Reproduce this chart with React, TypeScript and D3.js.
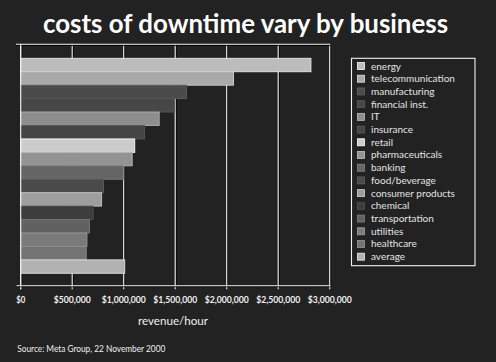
import React, { useRef, useEffect } from "react"
import * as d3 from "d3"

// industries, top to bottom
const categories = [
  "energy", "telecommunication", "manufacturing", "financial inst.", "IT", "insurance",
  "retail", "pharmaceuticals", "banking", "food/beverage", "consumer products",
  "chemical", "transportation", "utilities", "healthcare", "average",
]

// revenue lost per hour of downtime (USD)
const revenuePerHour = [
  2817846, 2066245, 1610654, 1495134, 1344461, 1202444,
  1107274, 1082252, 996802, 804192, 785719,
  704101, 668586, 643250, 636030, 1010536,
]

const barGreys = [
  "#bcbcbc", "#a9a9a9", "#4b4b4b", "#474747", "#8e8e8e", "#454545",
  "#cbcbcb", "#939393", "#656565", "#4a4a4a", "#9e9e9e",
  "#3d3d3d", "#616161", "#7a7a7a", "#737373", "#b2b2b2",
]

const tickValues = [0, 500000, 1000000, 1500000, 2000000, 2500000, 3000000]
const tickLabels = ["$0", "$500,000", "$1,000,000", "$1,500,000", "$2,000,000", "$2,500,000", "$3,000,000"]

const title = "costs of downtime vary by business"
const axisTitle = "revenue/hour"
const source = "Source: Meta Group, 22 November 2000"

const W = 496
const H = 362
const FONT = "Lato, 'DejaVu Sans', sans-serif"

const App: React.FC = () => {
  const svgRef = useRef<SVGSVGElement | null>(null)

  useEffect(() => {
    const svg = d3.select(svgRef.current)
    svg.selectAll("*").remove()

    const plot = { left: 20.7, right: 329.7, top: 44.3, bottom: 285.7 }

    // SCALES
    const x = d3.scaleLinear().domain([0, 3000000]).range([plot.left, plot.right])
    const y = d3.scaleBand<string>().domain(categories).range([58.3, 273.3]).padding(0)

    svg.append("rect").attr("width", W).attr("height", H).attr("fill", "#222222")

    // TITLE
    svg.append("text")
      .attr("x", 245.5).attr("y", 33)
      .attr("text-anchor", "middle")
      .attr("fill", "#ffffff")
      .attr("font-family", FONT)
      .attr("font-weight", 700)
      .attr("font-size", 26)
      .attr("textLength", 405)
      .attr("lengthAdjust", "spacingAndGlyphs")
      .text(title)

    // GRID (behind bars)
    const grid = svg.append("g")
    grid.selectAll("line.shadow")
      .data(tickValues)
      .enter().append("line")
      .attr("x1", d => x(d) + 1).attr("x2", d => x(d) + 1)
      .attr("y1", plot.top).attr("y2", plot.bottom)
      .attr("stroke", "#000").attr("stroke-width", 1)
    grid.selectAll("line.grid")
      .data(tickValues)
      .enter().append("line")
      .attr("x1", d => x(d)).attr("x2", d => x(d))
      .attr("y1", plot.top).attr("y2", plot.bottom + 3.5)
      .attr("stroke", "#f2f2f2").attr("stroke-width", 1.1)
    grid.append("line")
      .attr("x1", 16).attr("x2", plot.right + 0.5)
      .attr("y1", plot.top + 1).attr("y2", plot.top + 1)
      .attr("stroke", "#000")
    grid.append("line")
      .attr("x1", 16).attr("x2", plot.right + 0.5)
      .attr("y1", plot.top).attr("y2", plot.top)
      .attr("stroke", "#f2f2f2").attr("stroke-width", 1.1)

    // BARS
    const bars = svg.append("g")
    bars.selectAll("rect")
      .data(categories)
      .enter().append("rect")
      .attr("x", x(0))
      .attr("y", d => y(d) as number)
      .attr("width", (_d, i) => x(revenuePerHour[i]) - x(0))
      .attr("height", y.bandwidth())
      .attr("fill", (_d, i) => barGreys[i])
      .attr("stroke", (_d, i) => d3.color(barGreys[i])!.brighter(0.6).formatHex())
      .attr("stroke-width", 0.9)

    // left axis line over bars
    svg.append("line")
      .attr("x1", plot.left).attr("x2", plot.left)
      .attr("y1", plot.top).attr("y2", plot.bottom + 3.5)
      .attr("stroke", "#f2f2f2").attr("stroke-width", 1.1)

    // X AXIS
    svg.append("line")
      .attr("x1", 16.5).attr("x2", plot.right + 0.5)
      .attr("y1", plot.bottom + 1).attr("y2", plot.bottom + 1)
      .attr("stroke", "#000")
    svg.append("line")
      .attr("x1", 16.5).attr("x2", plot.right + 0.5)
      .attr("y1", plot.bottom).attr("y2", plot.bottom)
      .attr("stroke", "#f2f2f2").attr("stroke-width", 1.1)

    svg.append("g").selectAll("text")
      .data(tickValues)
      .enter().append("text")
      .attr("x", d => x(d))
      .attr("y", 302.5)
      .attr("text-anchor", "middle")
      .attr("fill", "#f0f0f0")
      .attr("font-family", FONT)
      .attr("font-weight", 700)
      .attr("font-size", 9)
      .attr("textLength", (_d, i) => (i === 0 ? 9 : i === 1 ? 37 : 44))
      .attr("lengthAdjust", "spacingAndGlyphs")
      .text((_d, i) => tickLabels[i])

    svg.append("text")
      .attr("x", 173).attr("y", 324.5)
      .attr("text-anchor", "middle")
      .attr("fill", "#f0f0f0")
      .attr("font-family", FONT)
      .attr("font-size", 12)
      .attr("textLength", 70)
      .attr("lengthAdjust", "spacingAndGlyphs")
      .text(axisTitle)

    svg.append("text")
      .attr("x", 17.3).attr("y", 351.5)
      .attr("fill", "#f0f0f0")
      .attr("font-family", FONT)
      .attr("font-size", 8.5)
      .attr("textLength", 148)
      .attr("lengthAdjust", "spacingAndGlyphs")
      .text(source)

    // LEGEND
    const legend = svg.append("g")
    legend.append("rect")
      .attr("x", 351.5).attr("y", 58.3)
      .attr("width", 123.5).attr("height", 207.4)
      .attr("fill", "none")
      .attr("stroke", "#f2f2f2").attr("stroke-width", 1.1)

    const ly = d3.scalePoint<string>().domain(categories).range([66, 256.7])
    const item = legend.selectAll("g.item")
      .data(categories)
      .enter().append("g")
      .attr("transform", d => `translate(0,${ly(d)})`)
    item.append("rect")
      .attr("x", 357.5).attr("y", -3.5)
      .attr("width", 7).attr("height", 7)
      .attr("fill", (_d, i) => barGreys[i])
      .attr("stroke", (_d, i) => d3.color(barGreys[i])!.brighter(0.8).formatHex())
      .attr("stroke-width", 0.8)
    item.append("text")
      .attr("x", 371)
      .attr("y", 0)
      .attr("dy", "0.35em")
      .attr("fill", "#e4e4e4")
      .attr("font-family", FONT)
      .attr("font-size", 10)
      .text(d => d)
  }, [])

  return (
    <svg
      ref={svgRef}
      width={W}
      height={H}
      style={{ position: "absolute", left: 0, top: 0, display: "block" }}
    ></svg>
  )
}

export default App
